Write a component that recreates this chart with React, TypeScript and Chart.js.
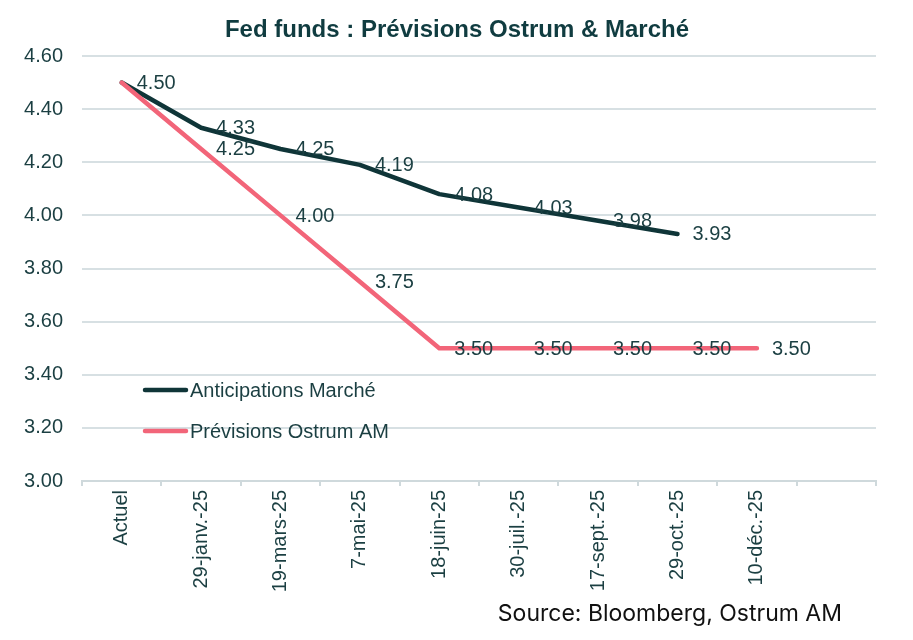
import React, { useEffect, useRef } from "react";
import { Chart, registerables } from "chart.js";

Chart.register(...registerables);

const categories = [
  "Actuel",
  "29-janv.-25",
  "19-mars-25",
  "7-mai-25",
  "18-juin-25",
  "30-juil.-25",
  "17-sept.-25",
  "29-oct.-25",
  "10-déc.-25",
  "",
];
const marketValues = [4.5, 4.33, 4.25, 4.19, 4.08, 4.03, 3.98, 3.93, null, null];
const ostrumValues = [4.5, 4.25, 4.0, 3.75, 3.5, 3.5, 3.5, 3.5, 3.5, null];
const seriesNames = ["Anticipations Marché", "Prévisions Ostrum AM"];
const yTicks = { min: 3.0, max: 4.6, step: 0.2 };
const titleText = "Fed funds : Prévisions Ostrum & Marché";
const sourceText = "Source: Bloomberg, Ostrum AM";

const DARK = "#0f3538";
const PINK = "#f26579";
const TEXT = "#1b3f42";
const GRID = "#d7e0e3";
const FONT = "'Liberation Sans', Arial, sans-serif";

const overlayPlugin = {
  id: "overlay",
  afterDatasetsDraw(chart: any) {
    const ctx = chart.ctx;
    ctx.save();
    ctx.font = `20px ${FONT}`;
    ctx.fillStyle = TEXT;
    ctx.textAlign = "left";
    ctx.textBaseline = "middle";
    const drawn = new Set<string>();
    chart.data.datasets.forEach((ds: any, di: number) => {
      const meta = chart.getDatasetMeta(di);
      meta.data.forEach((pt: any, i: number) => {
        const v = ds.data[i];
        if (v === null || v === undefined) return;
        const key = `${i}:${Number(v).toFixed(2)}`;
        if (drawn.has(key)) return;
        drawn.add(key);
        ctx.fillText(Number(v).toFixed(2), pt.x + 15, pt.y + 1);
      });
    });
    ctx.restore();
  },
  afterDraw(chart: any) {
    const ctx = chart.ctx;
    ctx.save();
    // Title
    ctx.font = `bold 24px ${FONT}`;
    ctx.fillStyle = "#103c40";
    ctx.textAlign = "center";
    ctx.textBaseline = "alphabetic";
    ctx.fillText(titleText, 457, 37);
    // Legend
    const items = [
      { label: seriesNames[0], color: DARK, y: 390 },
      { label: seriesNames[1], color: PINK, y: 431 },
    ];
    items.forEach((it) => {
      ctx.beginPath();
      ctx.strokeStyle = it.color;
      ctx.lineWidth = 4.5;
      ctx.lineCap = "round";
      ctx.moveTo(145, it.y);
      ctx.lineTo(186, it.y);
      ctx.stroke();
      ctx.font = `20px ${FONT}`;
      ctx.fillStyle = TEXT;
      ctx.textAlign = "left";
      ctx.textBaseline = "middle";
      ctx.fillText(it.label, 190, it.y + 1);
    });
    // Source
    ctx.font = `23px Inter, ${FONT}`;
    ctx.fillStyle = "#111111";
    ctx.textAlign = "right";
    ctx.textBaseline = "alphabetic";
    ctx.fillText(sourceText, 842, 621);
    ctx.restore();
  },
};

export default function App() {
  const ref = useRef<HTMLCanvasElement | null>(null);
  useEffect(() => {
    document.body.style.margin = "0";
    if (!ref.current) return;
    const chart = new Chart(ref.current, {
      type: "line",
      data: {
        labels: categories,
        datasets: [
          {
            label: seriesNames[0],
            data: marketValues,
            borderColor: DARK,
            backgroundColor: DARK,
            borderWidth: 4.5,
            pointRadius: 0,
            tension: 0,
            spanGaps: false,
            order: 1,
            borderCapStyle: "round",
            borderJoinStyle: "round",
          },
          {
            label: seriesNames[1],
            data: ostrumValues,
            borderColor: PINK,
            backgroundColor: PINK,
            borderWidth: 4.5,
            pointRadius: 0,
            tension: 0,
            spanGaps: false,
            order: 0,
            borderCapStyle: "round",
            borderJoinStyle: "round",
          },
        ],
      } as any,
      options: {
        animation: false,
        responsive: false,
        devicePixelRatio: 1,
        layout: { padding: { top: 56, left: 0, right: 37, bottom: 0 } },
        plugins: {
          legend: { display: false },
          title: { display: false },
          tooltip: { enabled: false },
        },
        scales: {
          x: {
            offset: true,
            grid: {
              display: true,
              offset: true,
              drawOnChartArea: false,
              drawTicks: true,
              tickLength: 5,
              color: "#cfd9dc",
              lineWidth: 2,
            },
            border: { display: true, color: "#cfd9dc", width: 2 },
            ticks: {
              autoSkip: false,
              minRotation: 90,
              maxRotation: 90,
              padding: 4,
              color: TEXT,
              font: { family: FONT, size: 20 },
            },
            afterFit: (scale: any) => {
              scale.height = 640 - 481;
            },
          },
          y: {
            min: yTicks.min,
            max: yTicks.max,
            grid: {
              color: GRID,
              lineWidth: 2,
              drawTicks: false,
            },
            border: { display: false },
            ticks: {
              stepSize: yTicks.step,
              padding: 19,
              color: TEXT,
              font: { family: FONT, size: 20 },
              callback: (v: any) => Number(v).toFixed(2),
            },
            afterFit: (scale: any) => {
              scale.width = 82;
            },
          },
        },
      } as any,
      plugins: [overlayPlugin],
    });
    return () => chart.destroy();
  }, []);
  return (
    <div style={{ position: "relative", width: 913, height: 640, background: "#ffffff" }}>
      <canvas ref={ref} width={913} height={640} style={{ display: "block", width: 913, height: 640 }} />
    </div>
  );
}
